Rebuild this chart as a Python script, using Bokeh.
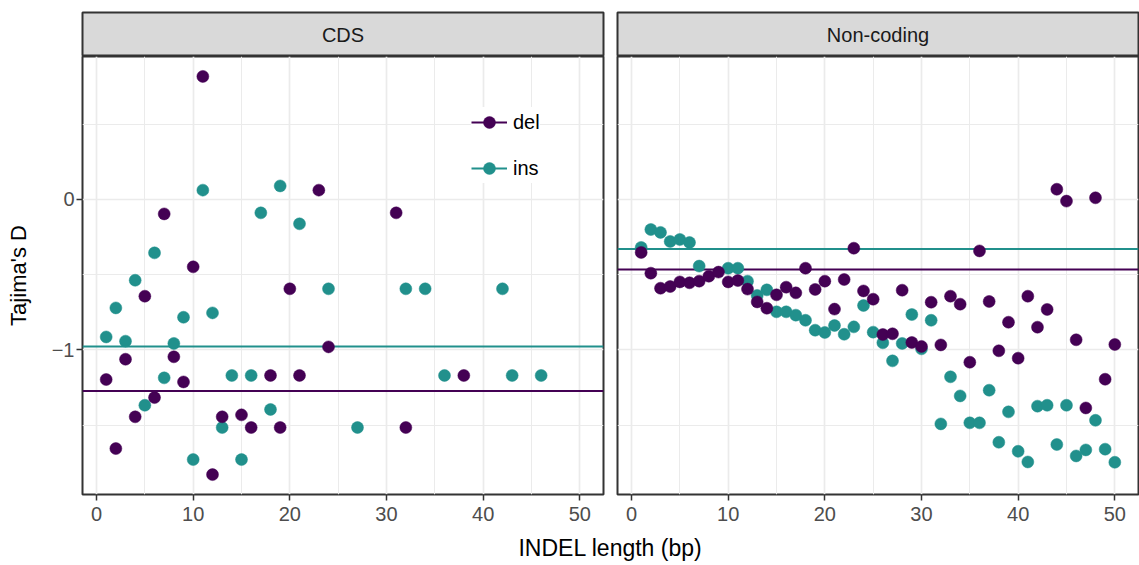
from bokeh.plotting import figure
from bokeh.models import Range1d, FixedTicker, Legend, LegendItem, Label, ColumnDataSource
from bokeh.layouts import column, row
from bokeh.embed import file_html
from bokeh.resources import INLINE

# ---------------- data ----------------
panels = ["CDS", "Non-coding"]
types = ["del", "ins"]

cds_del_len = [1, 2, 3, 4, 5, 6, 7, 8, 9, 10, 11, 12, 13, 15, 16, 18, 19, 20, 21, 23, 24, 31, 32, 38]
cds_del_D = [-1.197, -1.656, -1.062, -1.445, -0.643, -1.317, -0.096, -1.046, -1.213, -0.448, 0.818,
             -1.829, -1.445, -1.432, -1.516, -1.170, -1.516, -0.594, -1.170, 0.062, -0.980, -0.089,
             -1.516, -1.170]

cds_ins_len = [1, 2, 3, 4, 5, 6, 7, 8, 9, 10, 11, 12, 13, 14, 15, 16, 17, 18, 19, 21, 24, 27, 32, 34,
               36, 42, 43, 46]
cds_ins_D = [-0.914, -0.721, -0.942, -0.537, -1.368, -0.355, -1.186, -0.957, -0.783, -1.729, 0.062,
             -0.754, -1.516, -1.170, -1.729, -1.170, -0.089, -1.396, 0.090, -0.162, -0.594, -1.516,
             -0.594, -0.594, -1.170, -0.594, -1.170, -1.170]

nc_del_len = list(range(1, 51))
nc_del_D = [-0.352, -0.490, -0.590, -0.579, -0.548, -0.554, -0.543, -0.510, -0.483, -0.548,
            -0.539, -0.596, -0.681, -0.723, -0.634, -0.583, -0.621, -0.457, -0.598, -0.543,
            -0.729, -0.532, -0.324, -0.608, -0.663, -0.898, -0.893, -0.603, -0.951, -0.977,
            -0.683, -0.967, -0.643, -0.696, -1.082, -0.342, -0.678, -1.006, -0.816, -1.055,
            -0.643, -0.849, -0.731, 0.068, -0.011, -0.933, -1.386, 0.011, -1.195, -0.964]

nc_ins_len = [1, 2, 3, 4, 5, 6, 7, 10, 11, 12, 13, 14, 15, 16, 17, 18, 19, 20, 21, 22, 23, 24, 25,
              26, 27, 28, 29, 30, 31, 32, 33, 34, 35, 36, 37, 38, 39, 40, 41, 42, 43, 44, 45, 46,
              47, 48, 49, 50]
nc_ins_D = [-0.319, -0.200, -0.219, -0.279, -0.266, -0.286, -0.443, -0.457, -0.457, -0.543,
            -0.638, -0.601, -0.747, -0.747, -0.769, -0.803, -0.869, -0.884, -0.838, -0.896,
            -0.847, -0.705, -0.882, -0.953, -1.073, -0.957, -0.765, -0.993, -0.803, -1.492,
            -1.179, -1.306, -1.485, -1.485, -1.268, -1.614, -1.412, -1.674, -1.745, -1.374,
            -1.368, -1.629, -1.368, -1.705, -1.665, -1.468, -1.660, -1.747]

cds_del_mean = -1.273
cds_ins_mean = -0.977
nc_del_mean = -0.465
nc_ins_mean = -0.330

x_breaks = [0, 10, 20, 30, 40, 50]
x_minor = [5, 15, 25, 35, 45]
y_breaks = [-1, 0]
y_minor = [-1.5, -0.5, 0.5]
y_labels = {-1: "\u22121", 0: "0"}

colors = {"del": "#440154", "ins": "#21908C"}
FONT = "Liberation Sans"

# shared scales (ggplot: 5% expansion of the data range)
all_x = cds_del_len + cds_ins_len + nc_del_len + nc_ins_len
all_y = cds_del_D + cds_ins_D + nc_del_D + nc_ins_D
xs = max(all_x) - min(all_x)
ys = max(all_y) - min(all_y)
x0, x1 = min(all_x) - 0.05 * xs, max(all_x) + 0.05 * xs
y0, y1 = min(all_y) - 0.05 * ys, max(all_y) + 0.05 * ys

FRAME_W = 521
FRAME_H = 438
LEFT = 82
GAP_L = 7
GAP_R = 7
RIGHT = 1
BOTTOM = 36
TOP = 12
STRIP_H = 44
XL_H = 32


def panel_width(first):
    return (LEFT if first else GAP_R) + FRAME_W + (GAP_L if first else RIGHT)


def make_panel(first, series):
    p = figure(width=panel_width(first), height=FRAME_H + BOTTOM,
               x_range=Range1d(x0, x1), y_range=Range1d(y0, y1),
               toolbar_location=None, output_backend="svg",
               y_axis_location="left" if first else None,
               min_border_left=LEFT if first else GAP_R,
               min_border_right=GAP_L if first else RIGHT,
               min_border_top=0, min_border_bottom=BOTTOM,
               background_fill_color="white", border_fill_color="white",
               outline_line_color="#333333", outline_line_width=2)
    xt = FixedTicker(ticks=x_breaks, minor_ticks=x_minor)
    yt = FixedTicker(ticks=y_breaks, minor_ticks=y_minor)
    p.xaxis.ticker = xt
    p.xgrid.ticker = xt
    p.ygrid.ticker = yt
    for g in (p.xgrid, p.ygrid):
        g.grid_line_color = "#EBEBEB"
        g.grid_line_width = 1.7
        g.minor_grid_line_color = "#EBEBEB"
        g.minor_grid_line_width = 1.0
    axes = [p.xaxis[0]] + ([p.yaxis[0]] if first else [])
    for ax in axes:
        ax.axis_line_color = None
        ax.major_tick_line_color = "#333333"
        ax.major_tick_line_width = 1.5
        ax.major_tick_out = 6
        ax.major_tick_in = 0
        ax.minor_tick_line_color = None
        ax.major_label_text_font = FONT
        ax.major_label_text_font_size = "20px"
        ax.major_label_text_color = "#4D4D4D"
    p.xaxis.major_label_standoff = 6
    if first:
        p.yaxis.ticker = yt
        p.yaxis.major_label_overrides = y_labels
        p.yaxis.major_label_standoff = 2
        p.yaxis.axis_label = "Tajima's D"
        p.yaxis.axis_label_text_font = FONT
        p.yaxis.axis_label_text_font_size = "22px"
        p.yaxis.axis_label_text_font_style = "normal"
        p.yaxis.axis_label_text_color = "black"
        p.yaxis.axis_label_standoff = 18

    rends = {}
    for t in types:
        m = series[t]["mean"]
        seg = p.segment(x0=[x0], y0=[m], x1=[x1], y1=[m],
                        line_color=colors[t], line_width=2)
        rends[t] = [seg]
    for t in ["ins", "del"]:
        src = ColumnDataSource(dict(x=series[t]["len"], y=series[t]["D"]))
        sc = p.scatter("x", "y", source=src, size=12, fill_color=colors[t],
                       line_color=colors[t], line_width=0.5)
        rends[t].append(sc)
    return p, rends


def make_strip(first, text):
    s = figure(width=panel_width(first), height=TOP + STRIP_H,
               x_range=Range1d(0, 1), y_range=Range1d(0, 1),
               toolbar_location=None, output_backend="svg",
               x_axis_location=None, y_axis_location=None,
               min_border_left=LEFT if first else GAP_R,
               min_border_right=GAP_L if first else RIGHT,
               min_border_top=TOP, min_border_bottom=0,
               background_fill_color="#D9D9D9", border_fill_color="white",
               outline_line_color="#333333", outline_line_width=2)
    s.grid.visible = False
    s.add_layout(Label(x=0.5, y=0.5, text=text, text_align="center", text_baseline="middle",
                       text_font=FONT, text_font_size="20px", text_color="#1A1A1A"))
    return s


p1, r1 = make_panel(True, {"del": {"len": cds_del_len, "D": cds_del_D, "mean": cds_del_mean},
                           "ins": {"len": cds_ins_len, "D": cds_ins_D, "mean": cds_ins_mean}})
p2, r2 = make_panel(False, {"del": {"len": nc_del_len, "D": nc_del_D, "mean": nc_del_mean},
                            "ins": {"len": nc_ins_len, "D": nc_ins_D, "mean": nc_ins_mean}})

legend = Legend(items=[LegendItem(label=t, renderers=r1[t]) for t in types],
                location=(389, 311), glyph_width=36, glyph_height=30, spacing=16,
                padding=6, margin=0, label_standoff=6,
                label_text_font=FONT, label_text_font_size="20px", label_text_color="black",
                border_line_color=None, background_fill_color="white", background_fill_alpha=1.0)
p1.add_layout(legend)

s1 = make_strip(True, panels[0])
s2 = make_strip(False, panels[1])

total_w = p1.width + p2.width
xl = figure(width=total_w, height=XL_H, x_range=Range1d(0, 1), y_range=Range1d(0, 1),
            toolbar_location=None, output_backend="svg",
            x_axis_location=None, y_axis_location=None,
            min_border_left=LEFT, min_border_right=RIGHT, min_border_top=0, min_border_bottom=0,
            outline_line_color=None, border_fill_color="white", background_fill_color="white")
xl.grid.visible = False
xl.add_layout(Label(x=0.5, y=0.44, text="INDEL length (bp)", text_align="center",
                    text_baseline="middle", text_font=FONT, text_font_size="23px",
                    text_color="black"))

layout = column(row(s1, s2), row(p1, p2), xl)

open("out.html", "w").write(file_html(layout, INLINE))
